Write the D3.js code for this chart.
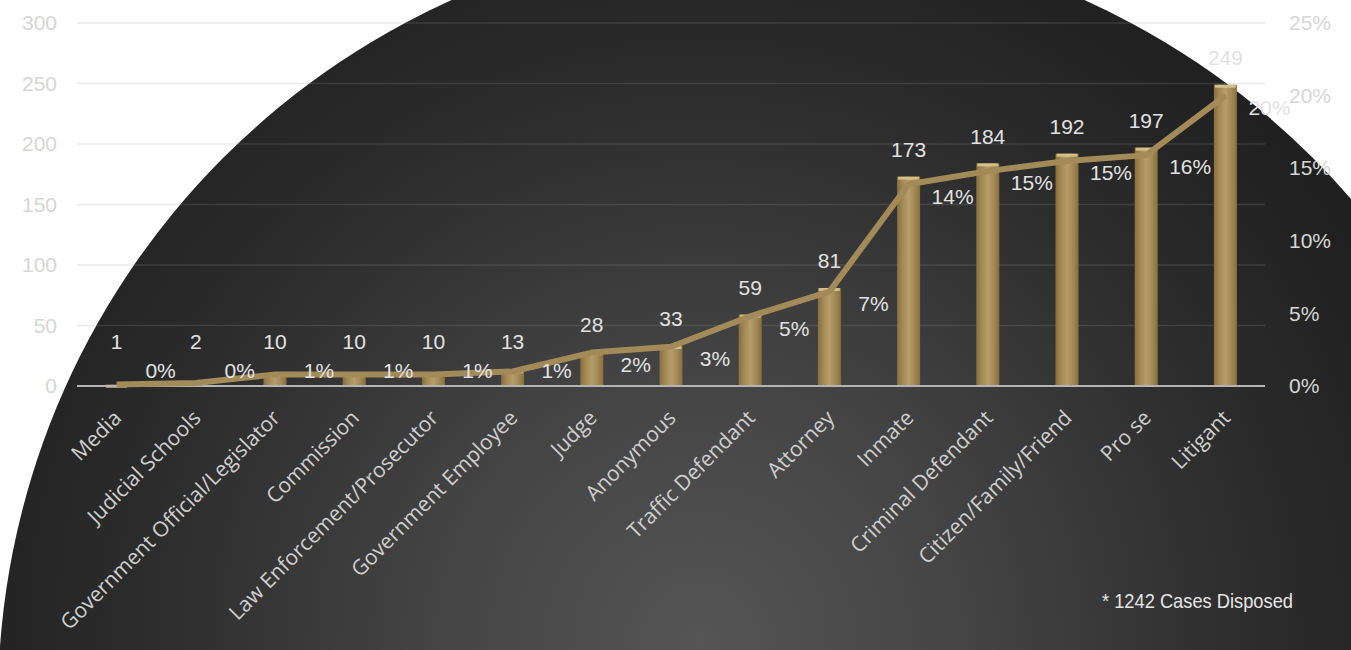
<!DOCTYPE html>
<html>
<head>
<meta charset="utf-8">
<script src="https://cdn.jsdelivr.net/npm/d3@7"></script>
<style>
  html, body { margin: 0; padding: 0; background: #ffffff; }
  svg { display: block; }
</style>
</head>
<body>
<svg id="chart" width="1351" height="650"></svg>
<script>
// ---- data ----
const categories = ["Media", "Judicial Schools", "Government Official/Legislator", "Commission",
  "Law Enforcement/Prosecutor", "Government Employee", "Judge", "Anonymous", "Traffic Defendant",
  "Attorney", "Inmate", "Criminal Defendant", "Citizen/Family/Friend", "Pro se", "Litigant"];
const cases = [1, 2, 10, 10, 10, 13, 28, 33, 59, 81, 173, 184, 192, 197, 249];
const sharePct = [0.1, 0.2, 0.8, 0.8, 0.8, 1.0, 2.3, 2.7, 4.8, 6.5, 13.9, 14.8, 15.5, 15.9, 20.0];
const shareLabels = ["0%", "0%", "1%", "1%", "1%", "1%", "2%", "3%", "5%", "7%", "14%", "15%", "15%", "16%", "20%"];
const leftTicks = [0, 50, 100, 150, 200, 250, 300];
const rightTicks = [0, 5, 10, 15, 20, 25];
const footnote = "* 1242 Cases Disposed";

// ---- layout ----
const svg = d3.select("#chart");
const W = 1351, H = 650;
const plotL = 77, plotR = 1265, plotTop = 23, plotBot = 386;

const x = d3.scaleBand().domain(categories).range([plotL, plotR]).padding(0);
const yL = d3.scaleLinear().domain([0, 300]).range([plotBot, plotTop]);
const yR = d3.scaleLinear().domain([0, 25]).range([plotBot, plotTop]);
const cx = d => x(d) + x.bandwidth() / 2;
const barW = 23;

const defs = svg.append("defs");
const rg = defs.append("radialGradient").attr("id", "bg")
  .attr("gradientUnits", "userSpaceOnUse")
  .attr("cx", 700).attr("cy", 640).attr("r", 760);
rg.append("stop").attr("offset", 0).attr("stop-color", "#555555");
rg.append("stop").attr("offset", 0.35).attr("stop-color", "#444444");
rg.append("stop").attr("offset", 0.7).attr("stop-color", "#2e2e2e");
rg.append("stop").attr("offset", 1).attr("stop-color", "#202020");

const bg = defs.append("linearGradient").attr("id", "bar").attr("x1", 0).attr("x2", 1).attr("y1", 0).attr("y2", 0);
[["0", "#87703f"], ["0.25", "#a48a56"], ["0.5", "#b69d6a"], ["0.75", "#a48a56"], ["1", "#87703f"]]
  .forEach(([o, c]) => bg.append("stop").attr("offset", o).attr("stop-color", c));

// background
svg.append("rect").attr("width", W).attr("height", H).attr("fill", "#ffffff");
svg.append("circle").attr("cx", 768).attr("cy", 702).attr("r", 770).attr("fill", "url(#bg)");

// gridlines
svg.append("g").selectAll("line").data(leftTicks.filter(t => t > 0)).join("line")
  .attr("x1", plotL).attr("x2", plotR)
  .attr("y1", d => yL(d)).attr("y2", d => yL(d))
  .attr("stroke", "#9a9a9a").attr("stroke-opacity", 0.2).attr("stroke-width", 1.5);

// axes
const axL = svg.append("g").attr("transform", `translate(${plotL},0)`)
  .call(d3.axisLeft(yL).tickValues(leftTicks).tickSize(0).tickPadding(20));
const axR = svg.append("g").attr("transform", `translate(${plotR},0)`)
  .call(d3.axisRight(yR).tickValues(rightTicks).tickSize(0).tickPadding(24).tickFormat(d => d + "%"));
[axL, axR].forEach(a => {
  a.select(".domain").remove();
  a.selectAll("text").attr("fill", "#d6d6d6").style("font-family", "'Liberation Sans', Arial, sans-serif").style("font-size", "21px");
});

// bars
const bars = svg.append("g");
bars.selectAll("rect.bar").data(categories).join("rect").attr("class", "bar")
  .attr("x", d => cx(d) - barW / 2).attr("width", barW)
  .attr("y", (d, i) => yL(cases[i])).attr("height", (d, i) => plotBot - yL(cases[i]))
  .attr("fill", "url(#bar)");
bars.selectAll("rect.cap").data(categories).join("rect").attr("class", "cap")
  .attr("x", d => cx(d) - barW / 2 + 1).attr("width", barW - 2)
  .attr("y", (d, i) => yL(cases[i])).attr("height", 3)
  .attr("fill", "#dcc892").attr("opacity", 0.85);

// baseline
svg.append("line").attr("x1", plotL).attr("x2", plotR).attr("y1", plotBot).attr("y2", plotBot)
  .attr("stroke", "#b4b4b4").attr("stroke-width", 2);

// line
const line = d3.line().x((d, i) => cx(categories[i])).y(d => yR(d));
svg.append("path").datum(sharePct).attr("d", line)
  .attr("fill", "none").attr("stroke", "#a38a59").attr("stroke-width", 6)
  .attr("stroke-linejoin", "round").attr("stroke-linecap", "butt");

// value labels
const numFont = "'Liberation Sans', Arial, sans-serif";
svg.append("g").selectAll("text").data(categories).join("text")
  .attr("x", d => cx(d))
  .attr("y", (d, i) => Math.min(yL(cases[i]) - 27, 342))
  .attr("dy", "0.35em").attr("text-anchor", "middle")
  .attr("fill", "#e2e2e2").style("font-family", numFont).style("font-size", "21px")
  .text((d, i) => cases[i]);

// percent labels
svg.append("g").selectAll("text").data(categories).join("text")
  .attr("x", d => cx(d) + 44)
  .attr("y", (d, i) => Math.min(yR(sharePct[i]) + 12, 371))
  .attr("dy", "0.35em").attr("text-anchor", "middle")
  .attr("fill", "#e2e2e2").style("font-family", numFont).style("font-size", "21px")
  .text((d, i) => shareLabels[i]);

// category labels
svg.append("g").selectAll("text").data(categories).join("text")
  .attr("transform", d => `translate(${cx(d) + 1},414) rotate(-45)`)
  .attr("dy", "0.35em").attr("text-anchor", "end")
  .attr("fill", "#cfcfcf").style("font-family", "'Open Sans', sans-serif").style("font-size", "21px")
  .text(d => d);

// footnote
svg.append("text").attr("x", 1102).attr("y", 608)
  .attr("textLength", 191).attr("lengthAdjust", "spacingAndGlyphs")
  .attr("fill", "#e6e6e6").style("font-family", "'Liberation Sans Narrow', 'Liberation Sans', Arial, sans-serif")
  .style("font-size", "21px").text(footnote);
</script>
</body>
</html>
